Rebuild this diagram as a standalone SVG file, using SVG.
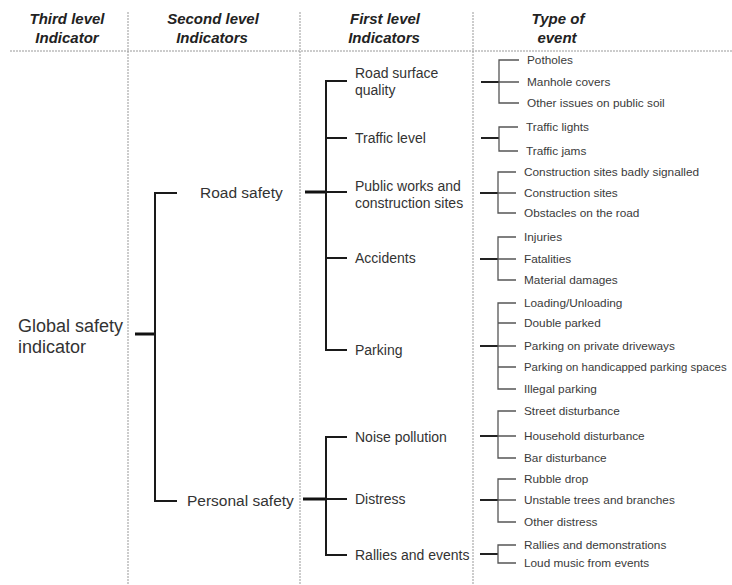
<svg xmlns="http://www.w3.org/2000/svg" width="732" height="585" viewBox="0 0 732 585">
<style>
.hd{font-family:"Liberation Sans",Arial,sans-serif;font-size:15px;font-weight:bold;font-style:italic;fill:#222;text-anchor:middle}
.l3{font-family:"Liberation Sans",Arial,sans-serif;font-size:18px;fill:#333}
.l2{font-family:"Liberation Sans",Arial,sans-serif;font-size:15.5px;fill:#333}
.l1{font-family:"Liberation Sans",Arial,sans-serif;font-size:14px;fill:#333}
.ev{font-family:"Liberation Sans",Arial,sans-serif;font-size:11.8px;fill:#3a3a3a}
.div{stroke:#999;stroke-width:1;stroke-dasharray:2 1;fill:none}
.br{stroke:#1a1a1a;stroke-width:2;fill:none}
.cn{stroke:#111;stroke-width:3;fill:none}
.bs{stroke:#555;stroke-width:1.3;fill:none}
.cs{stroke:#222;stroke-width:2;fill:none}
</style>
<rect width="732" height="585" fill="#fff"/>
<g id="grid">
<line class="div" x1="10" y1="51" x2="732" y2="51"/>
<line class="div" x1="128" y1="12" x2="128" y2="585"/>
<line class="div" x1="300" y1="12" x2="300" y2="585"/>
<line class="div" x1="473" y1="12" x2="473" y2="585"/>
</g>
<g id="headers">
<text class="hd" x="67" y="24">Third level</text>
<text class="hd" x="67" y="43">Indicator</text>
<text class="hd" x="213" y="24">Second level</text>
<text class="hd" x="212" y="43">Indicators</text>
<text class="hd" x="385" y="24">First level</text>
<text class="hd" x="384" y="43">Indicators</text>
<text class="hd" x="558" y="24">Type of</text>
<text class="hd" x="557" y="43">event</text>
</g>
<g id="connectors">
<path class="cn" d="M135 334H155"/>
<path class="br" d="M177 193H155V501H177"/>
<path class="cn" d="M305 192H326"/>
<path class="br" d="M347 81H326V350H347M326 138H347M326 192H347M326 258H347"/>
<path class="cn" d="M303 499H326"/>
<path class="br" d="M347 437H326V555H347M326 499H347"/>
<path class="cs" d="M481 82H499"/>
<path class="bs" d="M519 60H499V103H519M499 82H519"/>
<path class="cs" d="M481 138H499"/>
<path class="bs" d="M518 127H499V151H518"/>
<path class="cs" d="M480 193H498"/>
<path class="bs" d="M516 172H498V213H516M498 193H516"/>
<path class="cs" d="M480 259H498"/>
<path class="bs" d="M516 237H498V280H516M498 259H516"/>
<path class="cs" d="M480 346H498"/>
<path class="bs" d="M516 303H498V389H516M498 323H516M498 346H516M498 367H516"/>
<path class="cs" d="M480 436H498"/>
<path class="bs" d="M516 411H498V458H516M498 436H516"/>
<path class="cs" d="M480 500H498"/>
<path class="bs" d="M516 479H498V522H516M498 500H516"/>
<path class="cs" d="M480 554H498"/>
<path class="bs" d="M516 545H498V563H516"/>
</g>
<g id="global-safety"><text class="l3" x="18" y="332">Global safety</text><text class="l3" x="18" y="353">indicator</text></g>
<g id="road-safety"><text class="l2" x="200" y="198">Road safety</text></g>
<g id="personal-safety"><text class="l2" x="187" y="506">Personal safety</text></g>
<g id="road-surface-quality"><text class="l1" x="355" y="78">Road surface</text><text class="l1" x="355" y="95">quality</text></g>
<g id="traffic-level"><text class="l1" x="355" y="143">Traffic level</text></g>
<g id="public-works"><text class="l1" x="355" y="191">Public works and</text><text class="l1" x="355" y="208">construction sites</text></g>
<g id="accidents"><text class="l1" x="355" y="263">Accidents</text></g>
<g id="parking"><text class="l1" x="355" y="355">Parking</text></g>
<g id="noise-pollution"><text class="l1" x="355" y="442">Noise pollution</text></g>
<g id="distress"><text class="l1" x="355" y="504">Distress</text></g>
<g id="rallies-events"><text class="l1" x="355" y="560">Rallies and events</text></g>
<g id="ev-potholes"><text class="ev" x="527" y="64">Potholes</text></g>
<g id="ev-manhole"><text class="ev" x="527" y="86">Manhole covers</text></g>
<g id="ev-other-soil"><text class="ev" x="527" y="107">Other issues on public soil</text></g>
<g id="ev-traffic-lights"><text class="ev" x="526" y="131">Traffic lights</text></g>
<g id="ev-traffic-jams"><text class="ev" x="526" y="155">Traffic jams</text></g>
<g id="ev-constr-badly"><text class="ev" x="524" y="176">Construction sites badly signalled</text></g>
<g id="ev-constr-sites"><text class="ev" x="524" y="197">Construction sites</text></g>
<g id="ev-obstacles"><text class="ev" x="524" y="217">Obstacles on the road</text></g>
<g id="ev-injuries"><text class="ev" x="524" y="241">Injuries</text></g>
<g id="ev-fatalities"><text class="ev" x="524" y="263">Fatalities</text></g>
<g id="ev-material"><text class="ev" x="524" y="284">Material damages</text></g>
<g id="ev-loading"><text class="ev" x="524" y="307">Loading/Unloading</text></g>
<g id="ev-double"><text class="ev" x="524" y="327">Double parked</text></g>
<g id="ev-private"><text class="ev" x="524" y="350">Parking on private driveways</text></g>
<g id="ev-handicapped"><text class="ev" x="524" y="371" style="font-size:11.4px">Parking on handicapped parking spaces</text></g>
<g id="ev-illegal"><text class="ev" x="524" y="393">Illegal parking</text></g>
<g id="ev-street"><text class="ev" x="524" y="415">Street disturbance</text></g>
<g id="ev-household"><text class="ev" x="524" y="440">Household disturbance</text></g>
<g id="ev-bar"><text class="ev" x="524" y="462">Bar disturbance</text></g>
<g id="ev-rubble"><text class="ev" x="524" y="483">Rubble drop</text></g>
<g id="ev-unstable"><text class="ev" x="524" y="504">Unstable trees and branches</text></g>
<g id="ev-other-distress"><text class="ev" x="524" y="526">Other distress</text></g>
<g id="ev-rallies"><text class="ev" x="524" y="549">Rallies and demonstrations</text></g>
<g id="ev-loud"><text class="ev" x="524" y="567">Loud music from events</text></g>
</svg>
